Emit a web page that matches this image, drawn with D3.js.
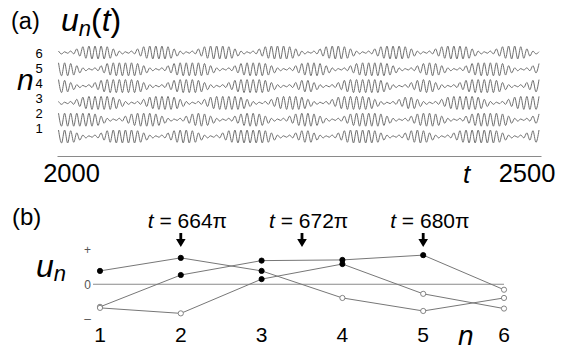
<!DOCTYPE html>
<html>
<head>
<meta charset="utf-8">
<script src="https://cdn.jsdelivr.net/npm/d3@7"></script>
<style>
  body { margin: 0; background: #fff; }
  text { font-family: Arial, "Liberation Sans", sans-serif; }
</style>
</head>
<body>
<div id="chart"></div>
<script>
// (a) one character per oscillation: amplitude level 0-9
const rows = [6, 5, 4, 3, 2, 1];
const levels = {
    6: "2125899985" + "2125899985" + "2125899985" + "2125899985" + "2125899852" + "1258999852" + "1258999852" + "1258998521",
    5: "9985212589" + "9998521258" + "9999852125" + "8999852125" + "8998521258" + "9999852125" + "8985212589" + "9998521258",
    4: "9852125899" + "9998521258" + "9998521258" + "9999852125" + "8852125899" + "9998521258" + "9852125899" + "9985212589",
    3: "2125899998" + "5212589998" + "5212589999" + "8521258999" + "8521258999" + "9852125885" + "2125899998" + "5212589999",
    2: "9999998521" + "2589998521" + "2589852125" + "8998521258" + "9985212589" + "9998521258" + "9985212589" + "9998521258",
    1: "9985212589" + "9998521258" + "9985212589" + "9999852125" + "8852125899" + "9985212589" + "8521258999" + "9985212589"
};
const tRange = [2000, 2500];
const tLabels = [2000, 2500];

// (b) snapshots u_n at the three times, n = 1..6
const sites = [1, 2, 3, 4, 5, 6];
const snapA = [0.39, 0.77, 0.39, -0.40, -0.78, -0.40];
const snapB = [-0.66, 0.27, 0.69, 0.71, 0.85, -0.16];
const snapC = [-0.69, -0.85, 0.15, 0.59, -0.28, -0.71];
const snapTimes = ["664π", "672π", "680π"];
const arrowAt = [2, 3.5, 5];
const uTicks = [{v: 1, label: "+"}, {v: 0, label: "0"}, {v: -1, label: "–"}];

const W = 571, H = 352;
const svg = d3.select("#chart").append("svg")
    .attr("width", W).attr("height", H)
    .style("background", "#fff");

// ---------- panel (a)
svg.append("text").attr("x", 11).attr("y", 29).style("font-size", "23.5px").text("(a)");
const title = svg.append("text").attr("x", 61).attr("y", 31).style("font-size", "32px");
title.append("tspan").style("font-style", "italic").text("u");
title.append("tspan").style("font-style", "italic").style("font-size", "22px").attr("dy", 5).text("n");
title.append("tspan").attr("dy", -5).text("(");
title.append("tspan").style("font-style", "italic").text("t");
title.append("tspan").text(")");

const x = d3.scaleLinear().domain(tRange).range([57, 541]);
const rowY = d3.scalePoint().domain(rows).range([52.5, 136.5]);
const labelY = d3.scalePoint().domain(rows).range([53, 128]);
const amp = d3.scaleLinear().domain([-9, 9]).range([6.5, -6.5]);

svg.append("g").selectAll("text")
    .data(rows)
    .join("text")
    .attr("x", 39).attr("y", d => labelY(d)).attr("dy", "0.36em")
    .attr("text-anchor", "middle")
    .style("font-size", "13px")
    .text(d => d);

svg.append("text").attr("x", 17).attr("y", 90)
    .style("font-size", "30px").style("font-style", "italic").text("n");

const wave = d3.line()
    .x(d => x(d.t))
    .y(d => d.y)
    .curve(d3.curveMonotoneX);

rows.forEach(n => {
    const lv = levels[n];
    const pts = [];
    for (let k = 0; k < lv.length * 2; k++) {
        const t = tRange[0] + Math.PI / 2 + k * Math.PI;
        if (t > tRange[1]) break;
        const a = +lv[Math.floor(k / 2)] * (k % 2 === 0 ? 1 : -1);
        pts.push({t: t, y: rowY(n) + amp(a)});
    }
    svg.append("path")
        .datum(pts)
        .attr("fill", "none")
        .attr("stroke", "#6e6e6e")
        .attr("stroke-width", 1)
        .attr("d", wave);
});

svg.append("g")
    .attr("transform", "translate(0,156)")
    .call(d3.axisBottom(x).tickValues([]).tickSizeOuter(0))
    .call(g => g.select(".domain").attr("stroke", "#8a8a8a"));

svg.append("g").selectAll("text")
    .data(tLabels)
    .join("text")
    .attr("x", (d, i) => x(d) + (i === 0 ? 14.5 : -14))
    .attr("y", 182)
    .attr("text-anchor", "middle")
    .style("font-size", "25.5px")
    .text(d => d);
svg.append("text").attr("x", 463).attr("y", 183)
    .style("font-size", "26px").style("font-style", "italic").text("t");

// ---------- panel (b)
svg.append("text").attr("x", 12).attr("y", 225).style("font-size", "24px").text("(b)");
const ul = svg.append("text").attr("x", 36).attr("y", 277).style("font-size", "32px").style("font-style", "italic");
ul.append("tspan").text("u");
ul.append("tspan").style("font-size", "22px").attr("dy", 4).text("n");

const xn = d3.scaleLinear().domain([1, 6]).range([100, 504]);
const yu = d3.scaleLinear().domain([-1, 1]).range([318.5, 250]);

svg.append("g").selectAll("text")
    .data(uTicks)
    .join("text")
    .attr("x", 87.5).attr("y", d => yu(d.v)).attr("dy", "0.36em")
    .attr("text-anchor", "middle")
    .style("font-size", "12px")
    .attr("fill", "#555")
    .text(d => d.label);

svg.append("line")
    .attr("x1", xn(1) - 7).attr("x2", xn(6))
    .attr("y1", yu(0)).attr("y2", yu(0))
    .attr("stroke", "#8a8a8a").attr("stroke-width", 1);

const snapLine = d3.line()
    .x((d, i) => xn(sites[i]))
    .y(d => yu(d));

[snapA, snapB, snapC].forEach(s => {
    svg.append("path")
        .datum(s)
        .attr("fill", "none")
        .attr("stroke", "#777")
        .attr("stroke-width", 1)
        .attr("d", snapLine);
});
[snapA, snapB, snapC].forEach(s => {
    svg.append("g").selectAll("circle")
        .data(s)
        .join("circle")
        .attr("cx", (d, i) => xn(sites[i]))
        .attr("cy", d => yu(d))
        .attr("r", 2.6)
        .attr("fill", d => d > 0 ? "#000" : "#fff")
        .attr("stroke", d => d > 0 ? "#000" : "#777")
        .attr("stroke-width", 0.9);
});

// time labels with arrows
snapTimes.forEach((lab, i) => {
    const ax = xn(arrowAt[i]);
    const tx = svg.append("text").attr("x", ax - 33).attr("y", 228).style("font-size", "21px");
    tx.append("tspan").style("font-style", "italic").text("t");
    tx.append("tspan").text(" = " + lab);
    svg.append("path")
        .attr("transform", `translate(${ax},0)`)
        .attr("d", "M-1.4,233 L1.4,233 L1.4,239 L4.8,239 L0,247 L-4.8,239 L-1.4,239 Z")
        .attr("fill", "#000");
});

svg.append("g").selectAll("text")
    .data(sites)
    .join("text")
    .attr("x", d => xn(d)).attr("y", 342)
    .attr("text-anchor", "middle")
    .style("font-size", "21px")
    .text(d => d);
svg.append("text").attr("x", 458).attr("y", 345)
    .style("font-size", "28px").style("font-style", "italic").text("n");
</script>
</body>
</html>
